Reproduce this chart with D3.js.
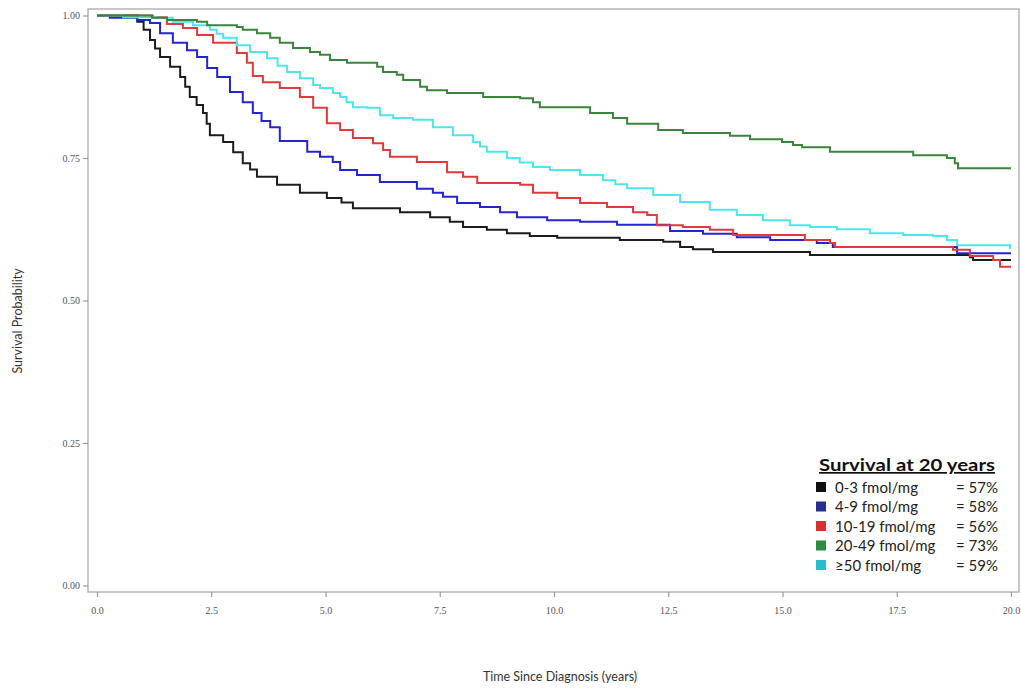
<!DOCTYPE html>
<html><head><meta charset="utf-8">
<script src="https://cdn.jsdelivr.net/npm/d3@7"></script>
<style>body{margin:0;background:#fff;} svg{display:block;}</style>
</head><body>
<svg id="chart" width="1021" height="688"></svg>
<script>
// ---- data (time in years, survival probability) ----
const seriesNames = ["0-3 fmol/mg","4-9 fmol/mg","10-19 fmol/mg","20-49 fmol/mg","\u226550 fmol/mg"];
const survivalAt20 = ["= 57%","= 58%","= 56%","= 73%","= 59%"];
const xTicks = [0,2.5,5,7.5,10,12.5,15,17.5,20];
const yTicks = [0,0.25,0.5,0.75,1];

const black03 = [[0,1],[0.88,0.989],[1.02,0.975],[1.16,0.957],[1.27,0.942],[1.38,0.927],[1.6,0.91],[1.82,0.892],[1.93,0.875],[2.03,0.857],[2.18,0.843],[2.32,0.829],[2.4,0.81],[2.47,0.79],[2.76,0.778],[2.98,0.76],[3.19,0.741],[3.35,0.73],[3.5,0.717],[3.94,0.703],[4.44,0.689],[5.03,0.68],[5.35,0.672],[5.6,0.662],[6.63,0.655],[7.29,0.646],[7.72,0.638],[8.01,0.629],[8.53,0.624],[8.97,0.618],[9.47,0.613],[10.07,0.61],[11.44,0.606],[12.39,0.603],[12.76,0.594],[13.04,0.59],[13.48,0.585],[15.6,0.58],[19.1,0.576],[19.17,0.571],[20,0.571]];
const blue49 = [[0,1],[0.28,0.996],[0.88,0.992],[1.16,0.987],[1.38,0.969],[1.66,0.952],[1.97,0.939],[2.19,0.927],[2.41,0.908],[2.63,0.892],[2.91,0.866],[3.19,0.848],[3.41,0.829],[3.6,0.815],[3.79,0.804],[4.0,0.78],[4.6,0.761],[4.88,0.752],[5.16,0.743],[5.32,0.729],[5.69,0.72],[6.19,0.708],[7.0,0.696],[7.35,0.689],[7.57,0.682],[7.88,0.671],[8.38,0.664],[8.82,0.655],[9.19,0.646],[9.85,0.641],[10.57,0.638],[11.38,0.633],[12.54,0.622],[13.26,0.617],[14.0,0.611],[14.73,0.606],[15.75,0.601],[16.1,0.594],[18.82,0.583],[20,0.583]];
const red1019 = [[0,1],[1.22,0.997],[1.53,0.985],[1.88,0.978],[2.19,0.966],[2.54,0.952],[3.06,0.934],[3.28,0.917],[3.41,0.894],[3.63,0.883],[4.0,0.873],[4.44,0.857],[4.73,0.838],[5.03,0.811],[5.32,0.799],[5.6,0.785],[6.04,0.776],[6.26,0.764],[6.41,0.752],[7.0,0.743],[7.66,0.725],[8.01,0.717],[8.32,0.706],[9.26,0.703],[9.54,0.689],[10.07,0.68],[10.57,0.671],[11.16,0.664],[11.73,0.655],[12.04,0.65],[12.25,0.632],[12.82,0.629],[13.41,0.624],[13.92,0.615],[15.49,0.606],[16.04,0.601],[16.15,0.594],[18.73,0.589],[19.1,0.578],[19.61,0.571],[19.76,0.559],[20,0.559]];
const green2049 = [[0,1],[1.2,0.996],[1.53,0.992],[2.19,0.989],[2.41,0.983],[3.06,0.98],[3.19,0.975],[3.5,0.969],[3.79,0.961],[4.0,0.952],[4.29,0.943],[4.66,0.936],[4.88,0.931],[5.1,0.922],[5.47,0.917],[6.13,0.91],[6.26,0.901],[6.56,0.896],[6.7,0.887],[7.07,0.875],[7.22,0.869],[7.66,0.864],[8.45,0.857],[9.26,0.855],[9.54,0.848],[9.69,0.839],[10.79,0.829],[11.29,0.82],[11.6,0.81],[12.28,0.799],[12.82,0.794],[13.85,0.789],[14.29,0.783],[14.99,0.778],[15.23,0.773],[15.43,0.769],[16.04,0.761],[17.86,0.755],[18.6,0.75],[18.77,0.741],[18.84,0.732],[20,0.732]];
const cyan50 = [[0,1],[0.57,0.997],[1.31,0.996],[1.66,0.989],[2.1,0.983],[2.47,0.975],[2.62,0.968],[2.76,0.961],[3.06,0.948],[3.35,0.936],[3.72,0.925],[3.95,0.912],[4.16,0.901],[4.44,0.89],[4.73,0.878],[4.88,0.873],[5.16,0.864],[5.32,0.857],[5.46,0.848],[5.6,0.839],[5.91,0.838],[6.19,0.825],[6.48,0.82],[6.91,0.817],[7.35,0.804],[7.79,0.79],[8.23,0.778],[8.38,0.77],[8.53,0.761],[8.97,0.75],[9.25,0.742],[9.54,0.734],[9.91,0.729],[10.57,0.72],[11.07,0.711],[11.34,0.704],[11.6,0.697],[12.17,0.685],[12.76,0.673],[13.41,0.659],[14.0,0.65],[14.57,0.641],[15.16,0.632],[15.6,0.629],[16.19,0.625],[16.91,0.618],[17.64,0.615],[18.29,0.613],[18.6,0.606],[18.82,0.597],[19.98,0.592],[20,0.592]];

const seriesData = [black03, blue49, red1019, green2049, cyan50];
const lineColors = ["#1c1c1c","#2424d4","#e03a3a","#3b843b","#4ee6ee"];
const swatchColors = ["#111111","#27308f","#d63131","#2f8a43","#25bccb"];

// ---- drawing ----
const svg = d3.select("#chart");
const x = d3.scaleLinear().domain([0,20]).range([97,1011]);
const y = d3.scaleLinear().domain([0,1]).range([585.5,15.5]);

// frame
svg.append("rect").attr("x",88).attr("y",9).attr("width",931).attr("height",583)
  .attr("fill","none").attr("stroke","#aaaaaa").attr("stroke-width",1.3);

const tickFont = "'Liberation Serif', 'DejaVu Serif', serif";

const xAxis = svg.append("g").attr("transform","translate(0,592)")
  .call(d3.axisBottom(x).tickValues(xTicks).tickFormat(d3.format(".1f")).tickSize(5).tickPadding(10));
const yAxis = svg.append("g").attr("transform","translate(88,0)")
  .call(d3.axisLeft(y).tickValues(yTicks).tickFormat(d3.format(".2f")).tickSize(5).tickPadding(3));
[xAxis,yAxis].forEach(a=>{
  a.select(".domain").remove();
  a.selectAll(".tick line").attr("stroke","#999").attr("stroke-width",1.2);
  a.selectAll(".tick text").attr("fill","#555").style("font-family",tickFont).style("font-size","10px");
});

// curves
const line = d3.line().x(d=>x(d[0])).y(d=>y(d[1])).curve(d3.curveStepAfter);
const order = [0,1,2,4,3];
svg.append("g").selectAll("path").data(order).join("path")
  .attr("d", i=>line(seriesData[i]))
  .attr("fill","none").attr("stroke", i=>lineColors[i]).attr("stroke-width",2)
  .attr("stroke-linejoin","miter");

// axis titles
svg.append("text").attr("x",560).attr("y",681).attr("text-anchor","middle")
  .style("font-family","Lato, 'Open Sans', sans-serif").style("font-size","12.5px").attr("fill","#333")
  .text("Time Since Diagnosis (years)");
svg.append("text").attr("transform","translate(22,321) rotate(-90)").attr("text-anchor","middle")
  .style("font-family","Lato, 'Open Sans', sans-serif").style("font-size","12.5px").attr("fill","#333")
  .text("Survival Probability");

// legend
const lg = svg.append("g");
lg.append("text").attr("x",819).attr("y",471)
  .style("font-family","Lato, 'Open Sans', sans-serif").style("font-size","17px").style("font-weight","bold")
  .style("text-decoration","underline").attr("fill","#111")
  .attr("textLength",176).attr("lengthAdjust","spacingAndGlyphs")
  .text("Survival at 20 years");
const rows = lg.selectAll("g.row").data(seriesNames).join("g").attr("class","row")
  .attr("transform",(d,i)=>`translate(0,${487 + i*19.5})`);
rows.append("rect").attr("x",816).attr("y",-5).attr("width",10).attr("height",10)
  .attr("fill",(d,i)=>swatchColors[i]);
rows.append("text").attr("x",835).attr("y",5.5)
  .style("font-family","Lato, 'Open Sans', sans-serif").style("font-size","15px").attr("fill","#222")
  .text(d=>d);
rows.append("text").attr("x",956).attr("y",5.5)
  .style("font-family","Lato, 'Open Sans', sans-serif").style("font-size","15px").attr("fill","#222")
  .text((d,i)=>survivalAt20[i]);
</script>
</body></html>
